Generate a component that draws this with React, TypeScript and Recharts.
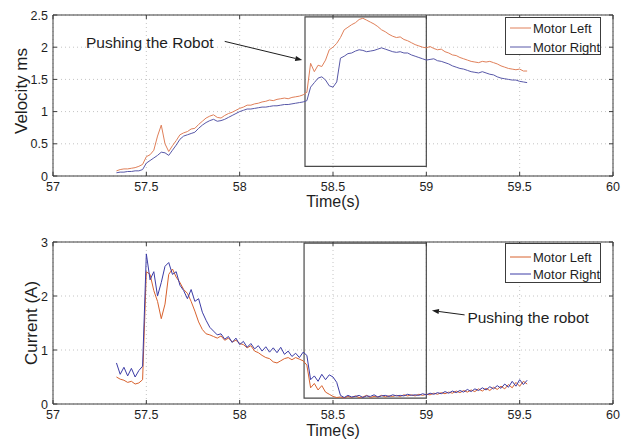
import React from 'react';
import {
  LineChart,
  Line,
  XAxis,
  YAxis,
  CartesianGrid,
  ReferenceArea,
  ReferenceLine,
  ReferenceDot,
  Legend,
} from 'recharts';

const FONT = '"Liberation Sans", Arial, Helvetica, sans-serif';
const FRAME = '#3c3c3c';
const INK = '#1e1e1e';
const GRID = '#c4c4c4';
const TICK_LEN = 4;

// Sample times (s), shared by both recordings
const TIME = [
  57.34, 57.36, 57.38, 57.40, 57.42, 57.44, 57.46, 57.48, 57.50, 57.52,
  57.54, 57.56, 57.58, 57.60, 57.62, 57.64, 57.66, 57.68, 57.70, 57.72,
  57.74, 57.76, 57.78, 57.80, 57.82, 57.84, 57.86, 57.88, 57.90, 57.92,
  57.94, 57.96, 57.98, 58.00, 58.02, 58.04, 58.06, 58.08, 58.10, 58.12,
  58.14, 58.16, 58.18, 58.20, 58.22, 58.24, 58.26, 58.28, 58.30, 58.32,
  58.34, 58.36, 58.38, 58.40, 58.42, 58.44, 58.46, 58.48, 58.50, 58.52,
  58.54, 58.56, 58.58, 58.60, 58.62, 58.64, 58.66, 58.68, 58.70, 58.72,
  58.74, 58.76, 58.78, 58.80, 58.82, 58.84, 58.86, 58.88, 58.90, 58.92,
  58.94, 58.96, 58.98, 59.00, 59.02, 59.04, 59.06, 59.08, 59.10, 59.12,
  59.14, 59.16, 59.18, 59.20, 59.22, 59.24, 59.26, 59.28, 59.30, 59.32,
  59.34, 59.36, 59.38, 59.40, 59.42, 59.44, 59.46, 59.48, 59.50, 59.52,
  59.54,
];

// Wheel velocity (m/s)
const VEL_LEFT = [
  0.08, 0.10, 0.11, 0.11, 0.12, 0.13, 0.15, 0.18, 0.30, 0.33,
  0.40, 0.62, 0.79, 0.50, 0.38, 0.47, 0.55, 0.64, 0.67, 0.69,
  0.73, 0.74, 0.80, 0.85, 0.90, 0.93, 0.95, 0.91, 0.90, 0.94,
  0.97, 0.99, 1.02, 1.05, 1.07, 1.10, 1.10, 1.12, 1.13, 1.15,
  1.16, 1.18, 1.17, 1.19, 1.20, 1.21, 1.20, 1.22, 1.23, 1.24,
  1.26, 1.30, 1.75, 1.62, 1.72, 1.70, 1.80, 1.96, 2.00, 2.06,
  2.15, 2.27, 2.31, 2.35, 2.38, 2.43, 2.45, 2.42, 2.39, 2.36,
  2.32, 2.27, 2.24, 2.20, 2.17, 2.15, 2.16, 2.12, 2.10, 2.07,
  2.04, 2.02, 2.00, 1.99, 2.01, 1.98, 1.96, 1.97, 1.93, 1.91,
  1.88, 1.87, 1.84, 1.82, 1.80, 1.78, 1.77, 1.76, 1.78, 1.77,
  1.78, 1.76, 1.74, 1.71, 1.69, 1.67, 1.66, 1.65, 1.66, 1.63,
  1.63,
];
const VEL_RIGHT = [
  0.05, 0.06, 0.06, 0.07, 0.07, 0.08, 0.08, 0.10, 0.20, 0.24,
  0.28, 0.32, 0.37, 0.36, 0.32, 0.40, 0.48, 0.57, 0.62, 0.64,
  0.66, 0.68, 0.74, 0.79, 0.83, 0.86, 0.88, 0.85, 0.86, 0.88,
  0.91, 0.94, 0.97, 1.00, 1.02, 1.04, 1.04, 1.05, 1.06, 1.07,
  1.07, 1.08, 1.09, 1.09, 1.10, 1.11, 1.11, 1.12, 1.13, 1.14,
  1.15, 1.17, 1.38, 1.45, 1.52, 1.54, 1.49, 1.40, 1.38, 1.46,
  1.83, 1.86, 1.90, 1.91, 1.94, 1.96, 1.95, 1.93, 1.94, 1.95,
  1.97, 1.99, 1.97, 1.95, 1.93, 1.92, 1.93, 1.91, 1.91, 1.88,
  1.86, 1.84, 1.82, 1.80, 1.81, 1.82, 1.79, 1.78, 1.76, 1.74,
  1.71, 1.69, 1.67, 1.66, 1.64, 1.62, 1.61, 1.60, 1.62, 1.60,
  1.58, 1.57, 1.54, 1.52, 1.51, 1.50, 1.49, 1.49, 1.47, 1.46,
  1.45,
];

// Motor current (A)
const CUR_LEFT = [
  0.50, 0.46, 0.44, 0.40, 0.42, 0.37, 0.39, 0.45, 2.45, 2.40,
  2.10, 1.90, 1.58, 1.85, 2.40, 2.50, 2.35, 2.25, 2.12, 2.05,
  1.90, 1.72, 1.52, 1.38, 1.30, 1.28, 1.25, 1.22, 1.26, 1.18,
  1.22, 1.15, 1.18, 1.12, 1.10, 1.04, 1.08, 0.98, 0.95, 0.90,
  0.86, 0.84, 0.78, 0.76, 0.80, 0.84, 0.86, 0.82, 0.86, 0.83,
  0.80, 0.72, 0.30, 0.38, 0.26, 0.34, 0.22, 0.18, 0.14, 0.12,
  0.13, 0.11, 0.14, 0.12, 0.15, 0.12, 0.13, 0.16, 0.12, 0.14,
  0.13, 0.16, 0.13, 0.15, 0.14, 0.16, 0.14, 0.17, 0.15, 0.17,
  0.15, 0.18, 0.16, 0.18, 0.17, 0.20, 0.18, 0.21, 0.19, 0.22,
  0.20, 0.24, 0.21, 0.25, 0.22, 0.26, 0.23, 0.28, 0.24, 0.29,
  0.25, 0.31, 0.27, 0.33, 0.28, 0.36, 0.30, 0.40, 0.33, 0.42,
  0.37,
];
const CUR_RIGHT = [
  0.76, 0.55, 0.68, 0.52, 0.66, 0.50, 0.62, 0.70, 2.78, 2.30,
  2.45, 2.00, 2.25, 2.55, 2.62, 2.40, 2.45, 2.20, 2.10, 1.95,
  2.12, 1.90, 1.95, 1.70, 1.55, 1.42, 1.35, 1.28, 1.30, 1.20,
  1.25, 1.14, 1.22, 1.10, 1.16, 1.05, 1.12, 1.02, 1.08, 0.98,
  1.06, 0.96, 1.04, 0.95, 1.05, 0.92, 0.98, 0.88, 0.94, 0.86,
  0.96, 0.90, 0.45, 0.52, 0.42, 0.55, 0.45, 0.54, 0.50, 0.40,
  0.16, 0.12, 0.16, 0.13, 0.14, 0.16, 0.12, 0.15, 0.14, 0.17,
  0.13, 0.15, 0.16, 0.14, 0.17, 0.15, 0.16, 0.15, 0.18, 0.16,
  0.17, 0.16, 0.19, 0.17, 0.20, 0.18, 0.21, 0.19, 0.23, 0.20,
  0.24, 0.21, 0.25, 0.22, 0.27, 0.23, 0.28, 0.25, 0.30, 0.26,
  0.32, 0.28, 0.34, 0.29, 0.37, 0.31, 0.42, 0.33, 0.45, 0.36,
  0.44,
];

const X_TICKS = [57, 57.5, 58, 58.5, 59, 59.5, 60];
const VEL_TICKS = [0, 0.5, 1, 1.5, 2, 2.5];
const CUR_TICKS = [0, 1, 2, 3];
const SERIES_NAMES = ['Motor Left', 'Motor Right'];

// Annotation geometry in data units
const VEL_WINDOW = { x1: 58.35, x2: 59.0, y1: 0.15, y2: 2.47 };
const VEL_NOTE = { text: 'Pushing the Robot', x: 57.177, y: 2.08, from: [57.92, 2.09], to: [58.335, 1.8] };
const CUR_WINDOW = { x1: 58.345, x2: 59.0, y1: 0.11, y2: 2.98 };
const CUR_NOTE = { text: 'Pushing the robot', x: 59.22, y: 1.61, from: [59.205, 1.65], to: [59.03, 1.73] };

const velRows = TIME.map((t, i) => ({ t, left: VEL_LEFT[i], right: VEL_RIGHT[i] }));
const curRows = TIME.map((t, i) => ({ t, left: CUR_LEFT[i], right: CUR_RIGHT[i] }));

const makeBottomTick = (labelGap: number) => (props: any) => {
  const { x, y, payload } = props;
  return (
    <g>
      <line x1={x} y1={y} x2={x} y2={y - TICK_LEN} stroke={FRAME} />
      <text x={x} y={y + labelGap} textAnchor="middle" fontSize={12.5} fontFamily={FONT} fill={INK}>
        {payload.value}
      </text>
    </g>
  );
};
const TopTick = (props: any) => (
  <line x1={props.x} y1={props.y} x2={props.x} y2={props.y + TICK_LEN} stroke={FRAME} />
);
const LeftTick = (props: any) => {
  const { x, y, payload } = props;
  return (
    <g>
      <line x1={x} y1={y} x2={x + TICK_LEN} y2={y} stroke={FRAME} />
      <text x={x - 5} y={y + 4.5} textAnchor="end" fontSize={12.5} fontFamily={FONT} fill={INK}>
        {payload.value}
      </text>
    </g>
  );
};
const RightTick = (props: any) => (
  <line x1={props.x} y1={props.y} x2={props.x - TICK_LEN} y2={props.y} stroke={FRAME} />
);

const arrowShape = (p: any) => {
  const x1 = Number(p.x1), y1 = Number(p.y1), x2 = Number(p.x2), y2 = Number(p.y2);
  const ang = Math.atan2(y2 - y1, x2 - x1);
  const len = 7;
  const half = 2.6;
  const bx = x2 - len * Math.cos(ang);
  const by = y2 - len * Math.sin(ang);
  const px = -Math.sin(ang) * half;
  const py = Math.cos(ang) * half;
  return (
    <g>
      <line x1={x1} y1={y1} x2={bx} y2={by} stroke={INK} strokeWidth={1} />
      <polygon points={`${x2},${y2} ${bx + px},${by + py} ${bx - px},${by - py}`} fill={INK} />
    </g>
  );
};

const noteShape = (text: string) => (p: any) => (
  <text x={p.cx} y={p.cy} dominantBaseline="central" fontSize={15.5} fontFamily={FONT} fill={INK}>
    {text}
  </text>
);

const legendBox = (rowTop: number, rowGap: number, height: number) => (props: any) => {
  const items = props.payload || [];
  return (
    <div
      style={{
        width: 96,
        height,
        boxSizing: 'border-box',
        border: `1px solid ${FRAME}`,
        background: '#fff',
        position: 'relative',
        fontFamily: FONT,
        fontSize: 13,
        color: INK,
      }}
    >
      {items.map((item: any, i: number) => (
        <div
          key={item.value}
          style={{
            position: 'absolute',
            left: 4,
            top: rowTop + i * rowGap,
            height: 18,
            display: 'flex',
            alignItems: 'center',
            whiteSpace: 'nowrap',
          }}
        >
          <svg width={21} height={2} style={{ display: 'block' }}>
            <line x1={0} y1={1} x2={21} y2={1} stroke={item.color} strokeWidth={1} />
          </svg>
          <span style={{ marginLeft: 2 }}>{item.value}</span>
        </div>
      ))}
    </div>
  );
};

type PanelProps = {
  height: number;
  marginTop: number;
  marginBottom: number;
  rows: any[];
  yTicks: number[];
  yMax: number;
  yLabel: string;
  yLabelX: number;
  yLabelY: number;
  tickLabelGap: number;
  xLabelGap: number;
  windowBox: { x1: number; x2: number; y1: number; y2: number };
  note: { text: string; x: number; y: number; from: number[]; to: number[] };
  colors: string[];
  legendTop: number;
  legendRowTop: number;
  legendRowGap: number;
  legendHeight: number;
};

function Panel(p: PanelProps) {
  const BottomTick = makeBottomTick(p.tickLabelGap);
  return (
    <LineChart
      width={627}
      height={p.height}
      data={p.rows}
      margin={{ top: p.marginTop, right: 13, bottom: p.marginBottom, left: 8 }}
      style={{ fontFamily: FONT }}
    >
      <CartesianGrid stroke={GRID} strokeDasharray="1 3" />
      <XAxis
        dataKey="t"
        type="number"
        domain={[57, 60]}
        allowDataOverflow
        ticks={X_TICKS}
        interval={0}
        height={30}
        tickSize={0}
        tickMargin={0}
        tickLine={false}
        axisLine={{ stroke: FRAME }}
        tick={BottomTick}
        label={(lp: any) => {
          const vb = lp.viewBox || {};
          return (
            <text
              x={vb.x + vb.width / 2}
              y={vb.y + p.xLabelGap}
              textAnchor="middle"
              fontSize={16}
              fontFamily={FONT}
              fill={INK}
            >
              Time(s)
            </text>
          );
        }}
      />
      <XAxis
        xAxisId="top"
        orientation="top"
        dataKey="t"
        type="number"
        domain={[57, 60]}
        allowDataOverflow
        ticks={X_TICKS}
        interval={0}
        height={1}
        tickSize={0}
        tickMargin={0}
        tickLine={false}
        axisLine={{ stroke: FRAME }}
        tick={<TopTick />}
      />
      <YAxis
        type="number"
        domain={[0, p.yMax]}
        allowDataOverflow
        ticks={p.yTicks}
        interval={0}
        width={45}
        tickSize={0}
        tickMargin={0}
        tickLine={false}
        axisLine={{ stroke: FRAME }}
        tick={<LeftTick />}
        label={() => (
          <text
            x={p.yLabelX}
            y={p.yLabelY}
            transform={`rotate(-90, ${p.yLabelX}, ${p.yLabelY})`}
            textAnchor="middle"
            dominantBaseline="central"
            fontSize={17}
            fontFamily={FONT}
            fill={INK}
          >
            {p.yLabel}
          </text>
        )}
      />
      <YAxis
        yAxisId="right"
        orientation="right"
        type="number"
        domain={[0, p.yMax]}
        allowDataOverflow
        ticks={p.yTicks}
        interval={0}
        width={1}
        tickSize={0}
        tickMargin={0}
        tickLine={false}
        axisLine={{ stroke: FRAME }}
        tick={<RightTick />}
      />
      <ReferenceArea
        x1={p.windowBox.x1}
        x2={p.windowBox.x2}
        y1={p.windowBox.y1}
        y2={p.windowBox.y2}
        fill="none"
        fillOpacity={0}
        stroke="#4a4a4a"
        strokeWidth={1.2}
      />
      <Line
        dataKey="left"
        name={SERIES_NAMES[0]}
        stroke={p.colors[0]}
        strokeWidth={1}
        dot={false}
        type="linear"
        isAnimationActive={false}
      />
      <Line
        dataKey="right"
        name={SERIES_NAMES[1]}
        stroke={p.colors[1]}
        strokeWidth={1}
        dot={false}
        type="linear"
        isAnimationActive={false}
      />
      <ReferenceLine
        segment={[
          { x: p.note.from[0], y: p.note.from[1] },
          { x: p.note.to[0], y: p.note.to[1] },
        ]}
        shape={arrowShape}
      />
      <ReferenceDot x={p.note.x} y={p.note.y} r={0} shape={noteShape(p.note.text)} />
      <Legend
        layout="vertical"
        align="center"
        verticalAlign="middle"
        wrapperStyle={{ left: 505, top: p.legendTop, width: 96 }}
        content={legendBox(p.legendRowTop, p.legendRowGap, p.legendHeight)}
      />
    </LineChart>
  );
}

export default function App() {
  return (
    <div
      style={{
        position: 'absolute',
        left: 0,
        top: 0,
        width: 627,
        height: 441,
        background: '#fff',
        overflow: 'hidden',
      }}
    >
      <div style={{ position: 'absolute', left: 0, top: 0 }}>
        <Panel
          height={220}
          marginTop={14}
          marginBottom={14}
          rows={velRows}
          yTicks={VEL_TICKS}
          yMax={2.5}
          yLabel="Velocity ms"
          yLabelX={21}
          yLabelY={91}
          tickLabelGap={15}
          xLabelGap={31}
          windowBox={VEL_WINDOW}
          note={VEL_NOTE}
          colors={['#e0805a', '#5858a8']}
          legendTop={17}
          legendRowTop={1}
          legendRowGap={19}
          legendHeight={38}
        />
      </div>
      <div style={{ position: 'absolute', left: 0, top: 220 }}>
        <Panel
          height={221}
          marginTop={21}
          marginBottom={7}
          rows={curRows}
          yTicks={CUR_TICKS}
          yMax={3}
          yLabel="Current (A)"
          yLabelX={31}
          yLabelY={103}
          tickLabelGap={14.5}
          xLabelGap={31.5}
          windowBox={CUR_WINDOW}
          note={CUR_NOTE}
          colors={['#d8622e', '#3c3ca6']}
          legendTop={23}
          legendRowTop={4}
          legendRowGap={17}
          legendHeight={40}
        />
      </div>
    </div>
  );
}
